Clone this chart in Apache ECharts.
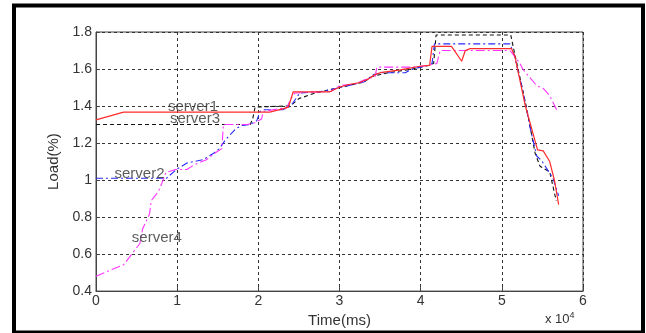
<!DOCTYPE html>
<html lang="en" style="height: 100%">
<head>
<meta charset="utf-8">
<title>Server Load</title>
</head>
<body style="height: 100%; margin: 0; background: #fff">
<div id="container" style="width: 646px; height: 333px"></div>

<script type="text/javascript" src="https://cdn.jsdelivr.net/npm/echarts@6/dist/echarts.min.js"></script>

<script type="text/javascript">

// x in units of 10^4 ms, y = load
var server1 = [
    [0, 1.325], [0.34, 1.367], [2.14, 1.367], [2.30, 1.385], [2.37, 1.394], [2.43, 1.477],
    [2.88, 1.477], [2.99, 1.50], [3.1, 1.515], [3.25, 1.527], [3.35, 1.545], [3.44, 1.57],
    [3.5, 1.58], [3.75, 1.595], [3.99, 1.615], [4.11, 1.62], [4.14, 1.722], [4.38, 1.722],
    [4.505, 1.642], [4.55, 1.70], [4.61, 1.71], [5.12, 1.71], [5.16, 1.67], [5.29, 1.40],
    [5.41, 1.21], [5.44, 1.163], [5.51, 1.158], [5.59, 1.10], [5.65, 0.995], [5.70, 0.867]
];
var server2 = [
    [0, 1.01], [0.87, 1.01], [0.92, 1.03], [0.99, 1.057], [1.12, 1.092], [1.32, 1.11],
    [1.45, 1.145], [1.52, 1.17], [1.60, 1.22], [1.73, 1.28], [1.80, 1.295], [1.90, 1.30],
    [1.98, 1.32], [2.02, 1.37], [2.06, 1.38], [2.30, 1.38], [2.40, 1.40], [2.51, 1.47],
    [2.8, 1.48], [3.0, 1.50], [3.2, 1.52], [3.3, 1.53], [3.42, 1.57], [3.55, 1.58],
    [3.81, 1.58], [3.9, 1.60], [4.1, 1.62], [4.14, 1.63], [4.17, 1.736], [5.1, 1.736],
    [5.15, 1.68], [5.25, 1.50], [5.35, 1.28], [5.43, 1.13], [5.49, 1.105], [5.63, 1.01],
    [5.70, 0.915]
];
var server3 = [
    [0, 1.30], [1.90, 1.30], [1.93, 1.33], [1.96, 1.394], [1.98, 1.40], [2.35, 1.40],
    [2.42, 1.41], [2.5, 1.44], [2.7, 1.47], [2.9, 1.49], [3.1, 1.51], [3.3, 1.53],
    [3.4, 1.56], [3.6, 1.58], [3.9, 1.60], [4.1, 1.62], [4.16, 1.63], [4.19, 1.784],
    [5.11, 1.784], [5.15, 1.70], [5.3, 1.40], [5.41, 1.145], [5.47, 1.075], [5.59, 1.044],
    [5.67, 0.888]
];
var server4 = [
    [0, 0.48], [0.21, 0.519], [0.34, 0.542], [0.54, 0.657], [0.575, 0.737], [0.66, 0.817],
    [0.68, 0.888], [0.77, 0.94], [0.83, 1.003], [0.86, 1.04], [0.98, 1.057], [1.12, 1.057],
    [1.2, 1.08], [1.36, 1.11], [1.48, 1.15], [1.55, 1.17], [1.57, 1.30], [1.86, 1.30],
    [1.96, 1.31], [2.04, 1.33], [2.06, 1.37], [2.25, 1.385], [2.35, 1.39], [2.40, 1.44],
    [2.45, 1.47], [2.9, 1.48], [3.0, 1.51], [3.2, 1.52], [3.3, 1.54], [3.44, 1.56],
    [3.46, 1.61], [3.9, 1.61], [4.1, 1.62], [4.2, 1.63], [4.24, 1.70], [5.1, 1.70],
    [5.22, 1.633], [5.26, 1.598], [5.43, 1.51], [5.51, 1.495], [5.59, 1.456], [5.68, 1.376]
];

// in-plot text labels
var labelNames = ['server1', 'server3', 'server2', 'server4'];
var labelPos = [[1.195, 1.398], [1.22, 1.329], [0.536, 1.036], [0.75, 0.685]];

var xTicks = [0, 1, 2, 3, 4, 5, 6];
var yTicks = [0.4, 0.6, 0.8, 1.0, 1.2, 1.4, 1.6, 1.8];

var font = '"Liberation Sans", Arial, sans-serif';
var textColor = '#333';

var dom = document.getElementById('container');
var myChart = echarts.init(dom, null, { renderer: 'canvas' });

function lineSeries(name, data, color, dash, width) {
    return {
        name: name,
        type: 'line',
        data: data,
        showSymbol: false,
        symbol: 'none',
        animation: false,
        lineStyle: { color: color, width: width, type: dash },
        z: 3
    };
}

var option = {
    backgroundColor: '#fff',
    animation: false,
    grid: {
        left: 96, top: 32, width: 487, height: 263,
        show: true, borderColor: '#444', borderWidth: 1
    },
    xAxis: {
        type: 'value',
        min: xTicks[0], max: xTicks[xTicks.length - 1], interval: 1,
        name: 'Time(ms)', nameLocation: 'middle', nameGap: 9,
        nameTextStyle: { fontFamily: font, fontSize: 15, color: textColor, verticalAlign: 'top' },
        axisLine: { show: true, lineStyle: { color: '#444' } },
        axisTick: { show: true, inside: true, length: 4, lineStyle: { color: '#444' } },
        axisLabel: { fontFamily: font, fontSize: 14, color: textColor, margin: 3 },
        splitLine: { show: true, lineStyle: { color: '#333', type: [3, 3], width: 1 } }
    },
    yAxis: {
        type: 'value',
        min: yTicks[0], max: yTicks[yTicks.length - 1], interval: 0.2,
        name: 'Load(%)', nameLocation: 'middle', nameGap: 32,
        nameTextStyle: { fontFamily: font, fontSize: 15, color: textColor },
        axisLine: { show: true, lineStyle: { color: '#444' } },
        axisTick: { show: true, inside: true, length: 4, lineStyle: { color: '#444' } },
        axisLabel: {
            fontFamily: font, fontSize: 14, color: textColor, margin: 4,
            formatter: function (v) { return Math.abs(v - 1) < 1e-9 ? '1' : v.toFixed(1); }
        },
        splitLine: { show: true, lineStyle: { color: '#333', type: [3, 3], width: 1 } }
    },
    graphic: [
        {
            type: 'text', left: 545, top: 311, silent: true,
            style: {
                text: 'x 10{s|4}', fontFamily: font, fontSize: 13, fill: textColor,
                rich: { s: { fontSize: 9, verticalAlign: 'top', padding: [0, 0, 8, 0], fill: textColor } }
            }
        },
        {
            type: 'rect', silent: true, z: 100,
            shape: { x: 14, y: 5.5, width: 629, height: 327 },
            style: { fill: 'none', stroke: '#000', lineWidth: 4 }
        }
    ],
    series: [
        lineSeries('server3', server3, '#111', [4, 3], 1.1),
        lineSeries('server2', server2, '#2a2aff', [7, 3, 2, 3], 1.1),
        lineSeries('server4', server4, '#ff33ff', [9, 3, 2, 3], 1.1),
        lineSeries('server1', server1, '#ff2a2a', 'solid', 1.2),
        {
            name: 'labels',
            type: 'scatter',
            symbolSize: 0,
            animation: false,
            silent: true,
            z: 5,
            data: labelPos.map(function (p, i) {
                return { name: labelNames[i], value: p };
            }),
            label: {
                show: true, position: 'inside',
                formatter: function (p) { return p.name; },
                fontFamily: font, fontSize: 15, color: textColor
            }
        }
    ]
};

if (option && typeof option === 'object') {
    myChart.setOption(option);
}

window.addEventListener('resize', myChart.resize);
</script>
</body>
</html>
